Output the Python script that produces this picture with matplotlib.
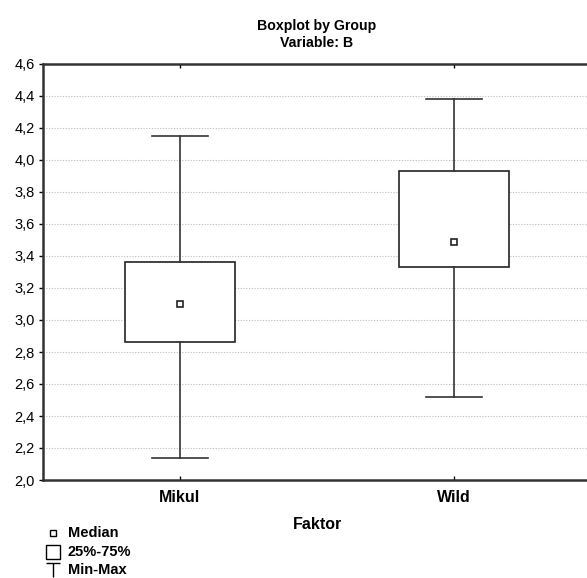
import matplotlib.pyplot as plt
from matplotlib.lines import Line2D
from matplotlib.path import Path

plt.rcParams['font.family'] = ['Liberation Sans', 'DejaVu Sans']

# Values
groups = ['Mikul', 'Wild']
mins = [2.14, 2.52]
q1s = [2.86, 3.33]
medians = [3.10, 3.49]
q3s = [3.36, 3.93]
maxs = [4.15, 4.38]
yticks = [2.0, 2.2, 2.4, 2.6, 2.8, 3.0, 3.2, 3.4, 3.6, 3.8, 4.0, 4.2, 4.4, 4.6]
legend_labels = ['Median', '25%-75%', 'Min-Max']

W, H = 587, 578
fig = plt.figure(figsize=(W / 100, H / 100), dpi=100)
# right edge of the plot runs slightly past the figure, like the cropped original
ax = fig.add_axes([43 / W, 1 - 480 / H, 548 / W, 416 / H])

stats = []
for i, g in enumerate(groups):
    stats.append(dict(label=g, whislo=mins[i], q1=q1s[i], med=medians[i],
                      q3=q3s[i], whishi=maxs[i], fliers=[]))

pos = list(range(len(groups)))
ax.bxp(stats, positions=pos, widths=0.405, capwidths=0.204, patch_artist=True,
       boxprops=dict(facecolor='white', edgecolor='#222222', linewidth=1.2),
       whiskerprops=dict(color='#333333', linewidth=1.2),
       capprops=dict(color='#333333', linewidth=1.2),
       medianprops=dict(linestyle='none'), zorder=3)
ax.plot(pos, medians, linestyle='none', marker='s', markersize=4.5,
        markerfacecolor='white', markeredgecolor='#222222', markeredgewidth=1.2,
        zorder=4)

ax.set_xlim(-0.5, 1.5)
ax.set_ylim(2.0, 4.6)
ax.set_yticks(yticks)
ax.set_yticklabels([f'{v:.1f}'.replace('.', ',') for v in yticks], fontsize=10.5)
ax.set_xticks(pos)
ax.set_xticklabels(groups, fontsize=11.5, fontweight='bold')
ax.yaxis.grid(True, linestyle=(0, (1, 1.5)), color='#bbbbbb', linewidth=0.8)
ax.set_axisbelow(True)

ax.tick_params(axis='x', direction='in', length=3, top=True, width=1, pad=7)
ax.tick_params(axis='y', direction='out', length=3, width=1, pad=3)
for s in ax.spines.values():
    s.set_linewidth(1.8)
    s.set_color('#333333')

ax.set_xlabel('Faktor', fontsize=11.5, fontweight='bold', labelpad=9)
ax.set_title('Boxplot by Group\nVariable: B', fontsize=10.2, fontweight='bold',
             pad=12.5, linespacing=1.2)

# legend drawn by hand below the plot
tee = Path([(-1, 1), (1, 1), (0, 1), (0, -1)],
           [Path.MOVETO, Path.LINETO, Path.MOVETO, Path.LINETO])
markers = [dict(marker='s', markersize=4.5, markerfacecolor='white'),
           dict(marker='s', markersize=10, markerfacecolor='white'),
           dict(marker=tee, markersize=10, markerfacecolor='none')]
rows_y = [533, 551.5, 570]
for lab, mk, yy in zip(legend_labels, markers, rows_y):
    fig.add_artist(Line2D([53 / W], [1 - yy / H], transform=fig.transFigure,
                          linestyle='none', markeredgecolor='black',
                          markeredgewidth=1, **mk))
    fig.text(68 / W, 1 - yy / H, lab, fontsize=10.5, fontweight='bold',
             va='center', ha='left')

fig.savefig('out.png', dpi=100)
